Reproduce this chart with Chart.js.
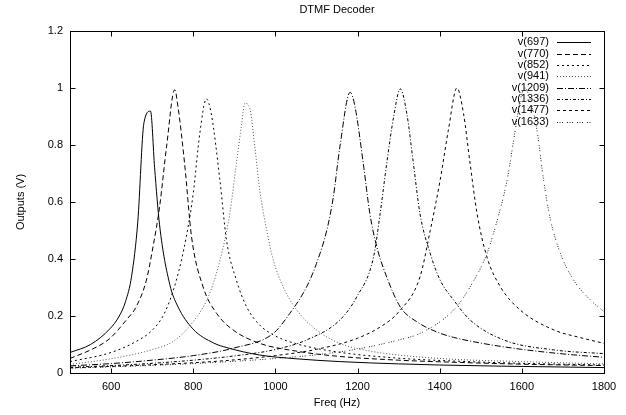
<!DOCTYPE html>
<html>
<head>
<meta charset="utf-8">
<script src="https://cdn.jsdelivr.net/npm/chart.js@4.4.1/dist/chart.umd.min.js"></script>
<style>
  html, body { margin: 0; padding: 0; background: #fff; }
</style>
</head>
<body>
<canvas id="dtmf" width="626" height="415"></canvas>
<script>
// DTMF decoder filter outputs
var seriesLabels = ["v(697)", "v(770)", "v(852)", "v(941)", "v(1209)", "v(1336)", "v(1477)", "v(1633)"];

var f697 = [500, 550, 597, 620, 635, 650, 665, 680, 696, 706, 718, 743, 762, 799, 850, 882, 962, 1050, 1157, 1300, 1400, 1550, 1800];
var v697 = [0.072, 0.10, 0.155, 0.2, 0.25, 0.34, 0.53, 0.878, 0.919, 0.72, 0.52, 0.31, 0.235, 0.155, 0.105, 0.089, 0.063, 0.05, 0.04, 0.032, 0.028, 0.024, 0.019];

var f770 = [500, 556, 596, 637, 661, 686, 702, 718, 735, 755, 763, 779, 796, 824, 857, 897, 962, 1050, 1150, 1300, 1450, 1600, 1800];
var v770 = [0.051, 0.085, 0.12, 0.186, 0.232, 0.326, 0.442, 0.582, 0.793, 0.994, 0.933, 0.735, 0.477, 0.302, 0.209, 0.151, 0.104, 0.077, 0.059, 0.045, 0.037, 0.031, 0.026];

var f852 = [500, 600, 660, 700, 730, 759, 783, 800, 816, 832, 844, 865, 881, 905, 930, 962, 1000, 1050, 1150, 1300, 1450, 1600, 1800];
var v852 = [0.040, 0.072, 0.11, 0.15, 0.21, 0.326, 0.477, 0.63, 0.84, 0.962, 0.909, 0.676, 0.466, 0.326, 0.232, 0.168, 0.13, 0.103, 0.074, 0.052, 0.041, 0.034, 0.028];

var f941 = [500, 600, 700, 750, 800, 840, 873, 889, 905, 918, 926, 938, 950, 962, 979, 995, 1019, 1052, 1100, 1157, 1239, 1401, 1600, 1800];
var v941 = [0.030, 0.050, 0.082, 0.11, 0.18, 0.279, 0.442, 0.559, 0.734, 0.875, 0.947, 0.927, 0.793, 0.641, 0.50, 0.396, 0.302, 0.221, 0.151, 0.104, 0.075, 0.051, 0.040, 0.032];

var f1209 = [500, 600, 700, 800, 900, 995, 1035, 1076, 1100, 1125, 1141, 1157, 1182, 1194, 1214, 1230, 1247, 1271, 1304, 1344, 1400, 1434, 1500, 1600, 1700, 1800];
var v1209 = [0.025, 0.033, 0.045, 0.061, 0.088, 0.139, 0.209, 0.302, 0.384, 0.50, 0.617, 0.793, 0.985, 0.933, 0.735, 0.559, 0.442, 0.337, 0.232, 0.18, 0.14, 0.125, 0.105, 0.083, 0.067, 0.055];

var f1336 = [500, 600, 700, 800, 900, 995, 1076, 1157, 1198, 1239, 1255, 1271, 1288, 1304, 1320, 1336, 1352, 1377, 1401, 1434, 1474, 1556, 1678, 1800];
var v1336 = [0.020, 0.026, 0.034, 0.045, 0.06, 0.081, 0.116, 0.186, 0.267, 0.407, 0.559, 0.735, 0.9, 0.997, 0.91, 0.735, 0.559, 0.419, 0.326, 0.256, 0.186, 0.116, 0.081, 0.068];

var f1477 = [500, 650, 800, 900, 1000, 1100, 1200, 1260, 1300, 1352, 1377, 1401, 1421, 1442, 1458, 1474, 1491, 1515, 1548, 1596, 1678, 1740, 1800];
var v1477 = [0.018, 0.026, 0.036, 0.046, 0.061, 0.083, 0.122, 0.166, 0.214, 0.337, 0.50, 0.676, 0.851, 1.0, 0.91, 0.735, 0.559, 0.407, 0.302, 0.221, 0.151, 0.125, 0.104];

var f1633 = [500, 650, 800, 900, 1000, 1100, 1200, 1300, 1352, 1434, 1474, 1515, 1540, 1564, 1580, 1595, 1607, 1620, 1637, 1653, 1670, 1694, 1726, 1767, 1800];
var v1633 = [0.017, 0.024, 0.033, 0.041, 0.051, 0.064, 0.084, 0.116, 0.139, 0.221, 0.302, 0.419, 0.536, 0.676, 0.816, 0.95, 1.0, 0.96, 0.851, 0.676, 0.536, 0.419, 0.326, 0.256, 0.215];

var xTicks = [600, 800, 1000, 1200, 1400, 1600, 1800];
var yTicks = [0, 0.2, 0.4, 0.6, 0.8, 1, 1.2];

var FONT = "Liberation Sans, Arial, sans-serif";

function toPoints(fs, vs) {
  return fs.map(function (f, i) { return { x: f, y: vs[i] }; });
}

var freqs = [f697, f770, f852, f941, f1209, f1336, f1477, f1633];
var volts = [v697, v770, v852, v941, v1209, v1336, v1477, v1633];
// gnuplot-ish monochrome line types
var dashes = [[], [5, 3], [2, 3], [1, 2], [6, 2, 1, 2], [3, 2, 1, 2], [3, 3], [1, 1.5, 1, 1.5, 1, 4]];
var colors = ["#000", "#000", "#000", "#555", "#000", "#000", "#000", "#222"];

var datasets = seriesLabels.map(function (lbl, i) {
  return {
    label: lbl,
    data: toPoints(freqs[i], volts[i]),
    borderColor: colors[i],
    borderWidth: 1,
    borderDash: dashes[i],
    pointRadius: 0,
    fill: false,
    cubicInterpolationMode: "monotone"
  };
});

// frame, inward ticks, legend and titles drawn the gnuplot way
var gnuplotFrame = {
  id: "gnuplotFrame",
  afterDraw: function (chart) {
    var ctx = chart.ctx;
    var a = chart.chartArea;
    var xs = chart.scales.x, ys = chart.scales.y;
    var L = Math.round(a.left) + 0.5, R = Math.round(a.right) + 0.5;
    var T = Math.round(a.top) + 0.5, B = Math.round(a.bottom) + 0.5;
    var tl = 5;

    ctx.save();
    ctx.strokeStyle = "#000";
    ctx.lineWidth = 1;
    ctx.setLineDash([]);
    ctx.strokeRect(L, T, R - L, B - T);

    ctx.beginPath();
    xTicks.forEach(function (v) {
      var px = Math.round(xs.getPixelForValue(v)) + 0.5;
      ctx.moveTo(px, B); ctx.lineTo(px, B - tl);
      ctx.moveTo(px, T); ctx.lineTo(px, T + tl);
    });
    yTicks.forEach(function (v) {
      var py = Math.round(ys.getPixelForValue(v)) + 0.5;
      ctx.moveTo(L, py); ctx.lineTo(L + tl, py);
      ctx.moveTo(R, py); ctx.lineTo(R - tl, py);
    });
    ctx.stroke();

    // legend
    ctx.font = "11px " + FONT;
    ctx.fillStyle = "#000";
    ctx.textAlign = "right";
    ctx.textBaseline = "middle";
    chart.data.datasets.forEach(function (ds, i) {
      var y = 42.3 + i * 11.35;
      ctx.fillText(ds.label, 549, y);
      ctx.beginPath();
      ctx.strokeStyle = ds.borderColor;
      ctx.setLineDash(ds.borderDash);
      ctx.moveTo(557, Math.round(y) + 0.5);
      ctx.lineTo(591, Math.round(y) + 0.5);
      ctx.stroke();
    });
    ctx.setLineDash([]);

    // titles
    ctx.textAlign = "center";
    ctx.fillText("DTMF Decoder", (a.left + a.right) / 2, 10);
    ctx.fillText("Freq (Hz)", (a.left + a.right) / 2, 403);
    ctx.translate(21, (a.top + a.bottom) / 2);
    ctx.rotate(-Math.PI / 2);
    ctx.fillText("Outputs (V)", 0, 0);
    ctx.restore();
  }
};

new Chart(document.getElementById("dtmf"), {
  type: "line",
  data: { datasets: datasets },
  options: {
    responsive: false,
    devicePixelRatio: 1,
    animation: false,
    layout: { padding: { top: 31, right: 22, left: 0, bottom: 0 } },
    plugins: { legend: { display: false }, tooltip: { enabled: false }, title: { display: false } },
    scales: {
      x: {
        type: "linear",
        min: 500,
        max: 1800,
        grid: { display: false, drawTicks: false },
        border: { display: false },
        afterBuildTicks: function (s) { s.ticks = xTicks.map(function (v) { return { value: v }; }); },
        afterFit: function (s) { s.height = 42; },
        ticks: {
          padding: 7,
          color: "#000",
          font: { family: FONT, size: 11 },
          maxRotation: 0,
          callback: function (v) { return String(v); }
        }
      },
      y: {
        type: "linear",
        min: 0,
        max: 1.2,
        grid: { display: false, drawTicks: false },
        border: { display: false },
        afterBuildTicks: function (s) { s.ticks = yTicks.map(function (v) { return { value: v }; }); },
        afterFit: function (s) { s.width = 70; },
        ticks: {
          padding: 7,
          color: "#000",
          font: { family: FONT, size: 11 },
          callback: function (v) { return String(Math.round(v * 10) / 10); }
        }
      }
    }
  },
  plugins: [gnuplotFrame]
});
</script>
</body>
</html>
